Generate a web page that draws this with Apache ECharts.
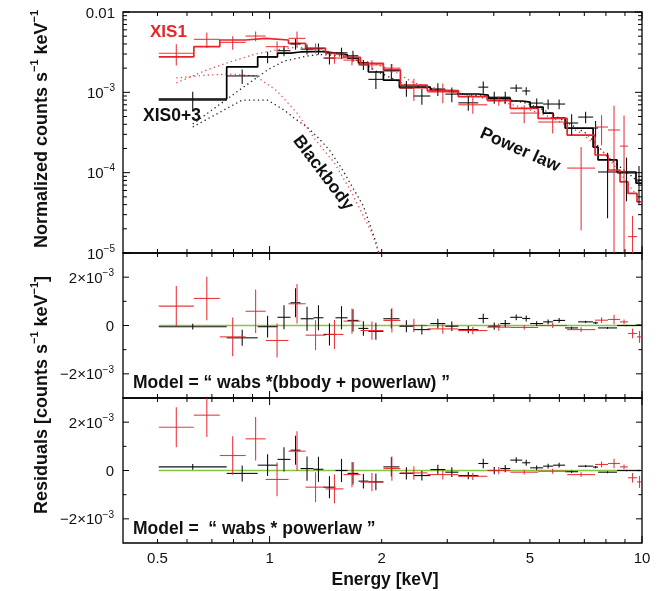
<!DOCTYPE html>
<html><head><meta charset="utf-8">
<script src="https://cdn.jsdelivr.net/npm/echarts@6/dist/echarts.min.js"></script>
<style>html,body{margin:0;padding:0;background:#fff}#c{width:667px;height:591px}</style>
</head><body><div id="c"></div>
<script>
// ---------------- DATA ----------------
// XIS0+3 (black) bin edges [keV]
const blackEdges = [0.504,0.767,0.929,1.050,1.138,1.211,1.312,1.395,1.503,1.619,1.732,1.842,2.021,2.231,2.433,2.702,2.964,3.212,3.634,3.865,4.163,4.428,4.768,5.010,5.427,5.772,6.217,6.737,7.391,7.621,8.570,9.636,10.0];
const blackRate = [8.0e-4,1.60e-3,2.75e-3,3.3e-3,4.0e-3,3.45e-3,3.5e-3,2.67e-3,3.1e-3,2.85e-3,2.2e-3,1.45e-3,1.85e-3,1.13e-3,9.0e-4,1.10e-3,9.5e-4,7.4e-4,1.16e-3,8.7e-4,8.7e-4,1.13e-3,1.04e-3,7.35e-4,7.15e-4,7.15e-4,4.15e-4,4.92e-4,3.6e-4,1.02e-4,9.9e-5,8.1e-5];
const blackErr = [2.2e-4,3.3e-4,4.5e-4,4.8e-4,6e-4,5e-4,5.5e-4,4.5e-4,5e-4,4.5e-4,3e-4,3.5e-4,4e-4,2.5e-4,2e-4,2e-4,2e-4,1.5e-4,2e-4,1.5e-4,1.5e-4,1.2e-4,1.2e-4,1e-4,1e-4,1e-4,1.2e-4,8e-5,8e-5,7.5e-5,5.5e-5,4e-5];
const blackModel = [8.26e-4,2.07e-3,2.76e-3,3.08e-3,3.18e-3,3.22e-3,3.22e-3,3.08e-3,2.92e-3,2.67e-3,2.32e-3,1.79e-3,1.42e-3,1.16e-3,1.16e-3,1.05e-3,1.04e-3,9.53e-4,9.25e-4,8.49e-4,8.49e-4,7.80e-4,7.57e-4,6.56e-4,5.52e-4,4.78e-4,3.59e-4,3.59e-4,2.08e-4,1.44e-4,1.02e-4,7.41e-5];
const blackBBody = [3.70e-4,8.01e-4,8.01e-4,6.03e-4,4.65e-4,3.70e-4,2.70e-4,1.91e-4,1.14e-4,6.43e-5,3.84e-5,1.37e-5,2.59e-6];
const blackPowLaw = [4.03e-4,1.13e-3,1.90e-3,2.45e-3,2.63e-3,2.83e-3,2.95e-3,2.92e-3,2.83e-3,2.60e-3,2.32e-3,1.84e-3,1.51e-3,1.23e-3,1.16e-3,1.07e-3,1.01e-3,9.25e-4,9.0e-4,8.49e-4,8.26e-4,7.8e-4,7.36e-4,6.56e-4,5.69e-4,4.78e-4,3.92e-4,3.11e-4,2.34e-4,1.56e-4,1.02e-4,7.63e-5];
// residuals in units of 1e-3 counts/s/keV
const blackResBB = [-0.05,-0.51,-0.05,0.34,0.94,0.28,0.32,-0.37,0.32,0.21,-0.12,-0.24,0.28,-0.03,-0.17,0.08,-0.03,-0.17,0.29,-0.03,0.08,0.34,0.29,0.08,0.15,0.21,-0.10,0.15,0.11,-0.10,0.0,0.02];
const blackResPL = [0.15,-0.12,0.22,0.46,0.84,0.08,0.05,-0.69,0.0,-0.12,-0.44,-0.47,0.15,-0.12,-0.21,0.04,-0.07,-0.21,0.29,0.0,0.08,0.43,0.32,0.11,0.18,0.22,-0.05,0.18,0.14,-0.07,0.0,0.0];
const blackResErr = [0.12,0.33,0.45,0.5,0.6,0.5,0.52,0.46,0.48,0.46,0.3,0.35,0.4,0.25,0.2,0.2,0.2,0.15,0.2,0.15,0.15,0.12,0.12,0.1,0.1,0.1,0.05,0.05,0.05,0.04,0.03,0.03];

// XIS1 (red)
const redEdges = [0.504,0.626,0.735,0.862,0.976,1.124,1.249,1.413,1.579,1.754,2.021,2.245,2.652,3.212,3.842,4.428,5.263,6.295,7.482,8.105,8.730,9.173,9.696,10.0];
const redRate = [3.06e-3,4.57e-3,4.19e-3,5.02e-3,3.70e-3,4.70e-3,3.56e-3,2.67e-3,2.52e-3,2.2e-3,2.0e-3,1.13e-3,1.01e-3,7.0e-4,7.80e-4,5.52e-4,4.27e-4,1.14e-4,3.70e-4,3.40e-4,2.14e-4,1.6e-5,5e-6];
const redErr = [9e-4,1e-3,8e-4,7e-4,6e-4,1e-3,5e-4,4e-4,3.5e-4,3e-4,2.5e-4,3.5e-4,2.8e-4,1.6e-4,1e-4,1.4e-4,1.2e-4,9.5e-5,1.5e-4,3.4e-4,3e-4,1.3e-5,4e-6];
const redModel = [2.77e-3,3.70e-3,4.48e-3,4.70e-3,4.48e-3,4.07e-3,3.53e-3,3.06e-3,2.73e-3,2.30e-3,1.90e-3,1.23e-3,1.05e-3,8.82e-4,8.01e-4,6.32e-4,4.74e-4,2.94e-4,1.66e-4,1.08e-4,7.70e-5,5.52e-5,4.34e-5];
const redBBody = [1.51e-3,1.64e-3,1.69e-3,1.60e-3,1.04e-3,5.52e-4,2.55e-4,1.32e-4,5.57e-5,1.77e-5,3.45e-6];
const redPowLaw = [1.31e-3,1.90e-3,2.45e-3,3.0e-3,3.37e-3,3.67e-3,3.46e-3,3.04e-3,2.71e-3,2.32e-3,1.90e-3,1.31e-3,1.07e-3,9.0e-4,7.8e-4,6.38e-4,4.78e-4,3.11e-4,1.91e-4,1.24e-4,8.57e-5,6.07e-5,4.83e-5];
const redResBB = [0.80,1.12,-0.47,0.59,-0.62,0.90,-0.40,-0.37,0.18,-0.21,0.21,0.0,-0.14,-0.21,-0.07,-0.08,0.0,-0.17,0.22,0.25,0.15,-0.33,-0.47];
const redResPL = [1.79,2.29,0.62,1.31,-0.37,0.80,-0.69,-0.76,-0.17,-0.48,0.08,-0.10,-0.17,-0.24,0.0,-0.07,-0.03,-0.17,0.25,0.29,0.15,-0.30,-0.47];
const redResErr = [0.83,0.9,0.8,0.9,0.7,0.82,0.62,0.6,0.52,0.38,0.5,0.28,0.2,0.15,0.15,0.1,0.1,0.1,0.12,0.2,0.1,0.2,0.25];

// axis ticks / labels
const xTickVals = [0.5,0.6,0.7,0.8,0.9,1,2,3,4,5,6,7,8,9,10];
const xMajorVals = [1,10];
const xLabelVals = [0.5,1,2,5,10];
const xLabelText = ['0.5','1','2','5','10'];
const yLogTickVals = [1e-5,2e-5,3e-5,4e-5,5e-5,6e-5,7e-5,8e-5,9e-5,1e-4,2e-4,3e-4,4e-4,5e-4,6e-4,7e-4,8e-4,9e-4,1e-3,2e-3,3e-3,4e-3,5e-3,6e-3,7e-3,8e-3,9e-3,1e-2];
const resTickVals = [-2,-1,0,1,2];
const resMajorVals = [-2,0,2];

// ---------------- CHART ----------------
const FONT = '"Liberation Sans", Arial, Helvetica, sans-serif';
const RED = '#e8242a', BLK = '#000';
const chart = echarts.init(document.getElementById('c'), null, {renderer: 'canvas'});

function centers(edges) { return edges.slice(0, -1).map((lo, i) => Math.sqrt(lo * edges[i + 1])); }
function stepData(edges, vals) { const d = []; vals.forEach((v, i) => { d.push([edges[i], v]); d.push([edges[i + 1], v]); }); return d; }

function crossSeries(g, edges, vals, errs, color, width, isLog) {
  const data = vals.map((v, i) => [edges[i], edges[i + 1], Math.sqrt(edges[i] * edges[i + 1]), v, errs[i]]);
  return {
    type: 'custom', xAxisIndex: g, yAxisIndex: g, silent: true, z: 5, data,
    encode: {x: [0, 1], y: 3},
    renderItem(params, api) {
      const cs = params.coordSys;
      const lo = api.value(0), hi = api.value(1), c = api.value(2), v = api.value(3), e = api.value(4);
      const clampY = y => Math.max(cs.y, Math.min(cs.y + cs.height, y));
      const yv = api.coord([c, v])[1];
      const yt = api.coord([c, v + e])[1];
      const yb = (isLog && v - e <= 0) ? cs.y + cs.height : api.coord([c, v - e])[1];
      const x1 = api.coord([lo, v])[0], x2 = api.coord([hi, v])[0], xc = api.coord([c, v])[0];
      const ch = [];
      if (yv >= cs.y - 0.5 && yv <= cs.y + cs.height + 0.5)
        ch.push({type: 'line', shape: {x1, y1: yv, x2, y2: yv}, style: {stroke: color, lineWidth: width}});
      const t = clampY(yt), b = clampY(yb);
      if (b - t > 0.3) ch.push({type: 'line', shape: {x1: xc, y1: t, x2: xc, y2: b}, style: {stroke: color, lineWidth: width}});
      return {type: 'group', children: ch};
    }
  };
}

function xTickSeries(g, yRef) {
  return {
    type: 'custom', xAxisIndex: g, yAxisIndex: g, silent: true, z: 10,
    data: xTickVals.map(v => [v, yRef]), encode: {x: 0, y: 1},
    renderItem(params, api) {
      const cs = params.coordSys; const v = api.value(0);
      const x = api.coord([v, api.value(1)])[0];
      const L = xMajorVals.indexOf(v) >= 0 ? 7 : 4;
      return {type: 'group', children: [
        {type: 'line', shape: {x1: x, y1: cs.y, x2: x, y2: cs.y + L}, style: {stroke: '#000', lineWidth: 1}},
        {type: 'line', shape: {x1: x, y1: cs.y + cs.height, x2: x, y2: cs.y + cs.height - L}, style: {stroke: '#000', lineWidth: 1}}
      ]};
    }
  };
}
function yTickSeries(g, vals, isMajor, Lmaj, Lmin) {
  return {
    type: 'custom', xAxisIndex: g, yAxisIndex: g, silent: true, z: 10,
    data: vals.map(v => [1, v]), encode: {x: 0, y: 1},
    renderItem(params, api) {
      const cs = params.coordSys; const v = api.value(1);
      const y = api.coord([1, v])[1];
      const L = isMajor(v) ? Lmaj : Lmin;
      return {type: 'group', children: [
        {type: 'line', shape: {x1: cs.x, y1: y, x2: cs.x + L, y2: y}, style: {stroke: '#000', lineWidth: 1}},
        {type: 'line', shape: {x1: cs.x + cs.width, y1: y, x2: cs.x + cs.width - L, y2: y}, style: {stroke: '#000', lineWidth: 1}}
      ]};
    }
  };
}
const logMajor = v => Math.abs(Math.log10(v) - Math.round(Math.log10(v))) < 1e-6;
const resMajor = v => resMajorVals.indexOf(Math.round(v)) >= 0;

const xLabelSeries = {
  type: 'custom', xAxisIndex: 2, yAxisIndex: 2, silent: true, z: 10,
  data: xLabelVals.map((v, i) => [v, 0, i]), encode: {x: 0, y: 1},
  renderItem(params, api) {
    const cs = params.coordSys;
    const x = api.coord([api.value(0), 0])[0];
    return {type: 'text', x: x, y: cs.y + cs.height + 16,
      style: {text: xLabelText[api.value(2)], font: '15px ' + FONT, fill: '#111', align: 'center', verticalAlign: 'middle'}};
  }
};

const richY = {
  b: {fontSize: 15, fontFamily: FONT, color: '#111', lineHeight: 18, verticalAlign: 'bottom'},
  s: {fontSize: 10, fontFamily: FONT, color: '#111', lineHeight: 11, verticalAlign: 'top'}
};
const logLabel = v => { const e = Math.round(Math.log10(v)); return e === -2 ? '{b|0.01}' : '{b|10}{s|\u2212' + (-e) + '}'; };
const resLabel = v => { const r = Math.round(v); if (r === 2) return '{b|2\u00d710}{s|\u22123}'; if (r === 0) return '{b|0}'; if (r === -2) return '{b|\u22122\u00d710}{s|\u22123}'; return ''; };

const X_MIN = 0.404, X_MAX = 10;
const grids = [
  {left: 123, right: 25, top: 12, height: 241},
  {left: 123, right: 25, top: 253, height: 145},
  {left: 123, right: 25, top: 398, height: 145}
].map(g => Object.assign(g, {show: true, borderColor: '#000', borderWidth: 1.3, backgroundColor: 'transparent'}));

const xAxes = [0, 1, 2].map(i => ({type: 'log', logBase: 10, gridIndex: i, min: X_MIN, max: X_MAX,
  axisLine: {show: false}, axisTick: {show: false}, axisLabel: {show: false}, splitLine: {show: false}, minorTick: {show: false}}));
const yAxes = [
  {type: 'log', logBase: 10, gridIndex: 0, min: 1e-5, max: 1e-2, axisLine: {show: false}, axisTick: {show: false}, splitLine: {show: false},
    axisLabel: {formatter: logLabel, rich: richY, margin: 8}},
  {type: 'value', gridIndex: 1, min: -3, max: 3, interval: 1, axisLine: {show: false}, axisTick: {show: false}, splitLine: {show: false},
    axisLabel: {formatter: resLabel, rich: richY, margin: 9, showMinLabel: true, showMaxLabel: true}},
  {type: 'value', gridIndex: 2, min: -3, max: 3, interval: 1, axisLine: {show: false}, axisTick: {show: false}, splitLine: {show: false},
    axisLabel: {formatter: resLabel, rich: richY, margin: 9, showMinLabel: true, showMaxLabel: true}}
];

const bC = centers(blackEdges), rC = centers(redEdges);
const lineS = (g, data, color, width, type, z) => ({type: 'line', xAxisIndex: g, yAxisIndex: g, data, symbol: 'none', showSymbol: false,
  silent: true, clip: true, z: z || 3, lineStyle: {color, width, type: type || 'solid'}});

const series = [
  // components (dotted)
  lineS(0, blackBBody.map((v, i) => [bC[i], v]), '#222', 1.3, [1.3, 3.2]),
  lineS(0, blackPowLaw.map((v, i) => [bC[i], v]), '#222', 1.3, [1.3, 3.2]),
  lineS(0, redBBody.map((v, i) => [rC[i], v]), '#e64a4a', 1.3, [1.3, 3.2]),
  lineS(0, redPowLaw.map((v, i) => [rC[i], v]), '#e64a4a', 1.3, [1.3, 3.2]),
  // model steps
  lineS(0, stepData(blackEdges, blackModel), BLK, 1.7, 'solid', 4),
  lineS(0, stepData(redEdges, redModel), RED, 1.7, 'solid', 4),
  // data
  crossSeries(0, blackEdges, blackRate, blackErr, '#111', 1.1, true),
  crossSeries(0, redEdges, redRate, redErr, 'rgba(232,36,42,0.9)', 1.1, true),
  // residual zero lines
  lineS(1, [[blackEdges[0], 0], [X_MAX, 0]], '#86c540', 1.6, 'solid', 2),
  lineS(2, [[blackEdges[0], 0], [X_MAX, 0]], '#86c540', 1.6, 'solid', 2),
  crossSeries(1, blackEdges, blackResBB, blackResErr, '#111', 1.1, false),
  crossSeries(1, redEdges, redResBB, redResErr, 'rgba(232,36,42,0.9)', 1.1, false),
  crossSeries(2, blackEdges, blackResPL, blackResErr, '#111', 1.1, false),
  crossSeries(2, redEdges, redResPL, redResErr, 'rgba(232,36,42,0.9)', 1.1, false),
  // ticks
  xTickSeries(0, 1e-3), xTickSeries(1, 0), xTickSeries(2, 0),
  yTickSeries(0, yLogTickVals, logMajor, 7, 4),
  yTickSeries(1, resTickVals, resMajor, 6, 3.5),
  yTickSeries(2, resTickVals, resMajor, 6, 3.5),
  xLabelSeries
];

const bold = s => 'bold ' + s + 'px ' + FONT;
const richTitle = {
  b: {fontSize: 18, fontWeight: 'bold', fontFamily: FONT, fill: '#111', lineHeight: 22, verticalAlign: 'bottom'},
  s: {fontSize: 11, fontWeight: 'bold', fontFamily: FONT, fill: '#111', lineHeight: 12, verticalAlign: 'top'}
};
const graphic = [
  {type: 'text', x: 150, y: 32, style: {text: 'XIS1', font: bold(17), fill: RED, align: 'left', verticalAlign: 'middle'}},
  {type: 'text', x: 143, y: 116, style: {text: 'XIS0+3', font: bold(17.5), fill: '#111', align: 'left', verticalAlign: 'middle'}},
  {type: 'text', x: 323, y: 173, rotation: -53 * Math.PI / 180, style: {text: 'Blackbody', font: bold(17.5), fill: '#111', align: 'center', verticalAlign: 'middle'}},
  {type: 'text', x: 520, y: 150, rotation: -24 * Math.PI / 180, style: {text: 'Power law', font: bold(17.5), fill: '#111', align: 'center', verticalAlign: 'middle'}},
  {type: 'text', x: 133, y: 383, style: {text: 'Model = \u201c wabs *(bbody + powerlaw) \u201d', font: bold(17.5), fill: '#111', align: 'left', verticalAlign: 'middle'}},
  {type: 'text', x: 133, y: 529, style: {text: 'Model =  \u201c wabs * powerlaw \u201d', font: bold(17.5), fill: '#111', align: 'left', verticalAlign: 'middle'}},
  {type: 'text', x: 385, y: 580, style: {text: 'Energy [keV]', font: bold(17.5), fill: '#111', align: 'center', verticalAlign: 'middle'}},
  {type: 'text', x: 40, y: 129, rotation: Math.PI / 2, style: {text: '{b|Normalized counts s}{s|\u22121}{b| keV}{s|\u22121}', rich: richTitle, align: 'center', verticalAlign: 'middle'}},
  {type: 'text', x: 40, y: 395, rotation: Math.PI / 2, style: {text: '{b|Residuals [counts s}{s|\u22121}{b| keV}{s|\u22121}{b|]}', rich: richTitle, align: 'center', verticalAlign: 'middle'}}
];

chart.setOption({animation: false, backgroundColor: '#fff', grid: grids, xAxis: xAxes, yAxis: yAxes, series, graphic});
</script></body></html>
